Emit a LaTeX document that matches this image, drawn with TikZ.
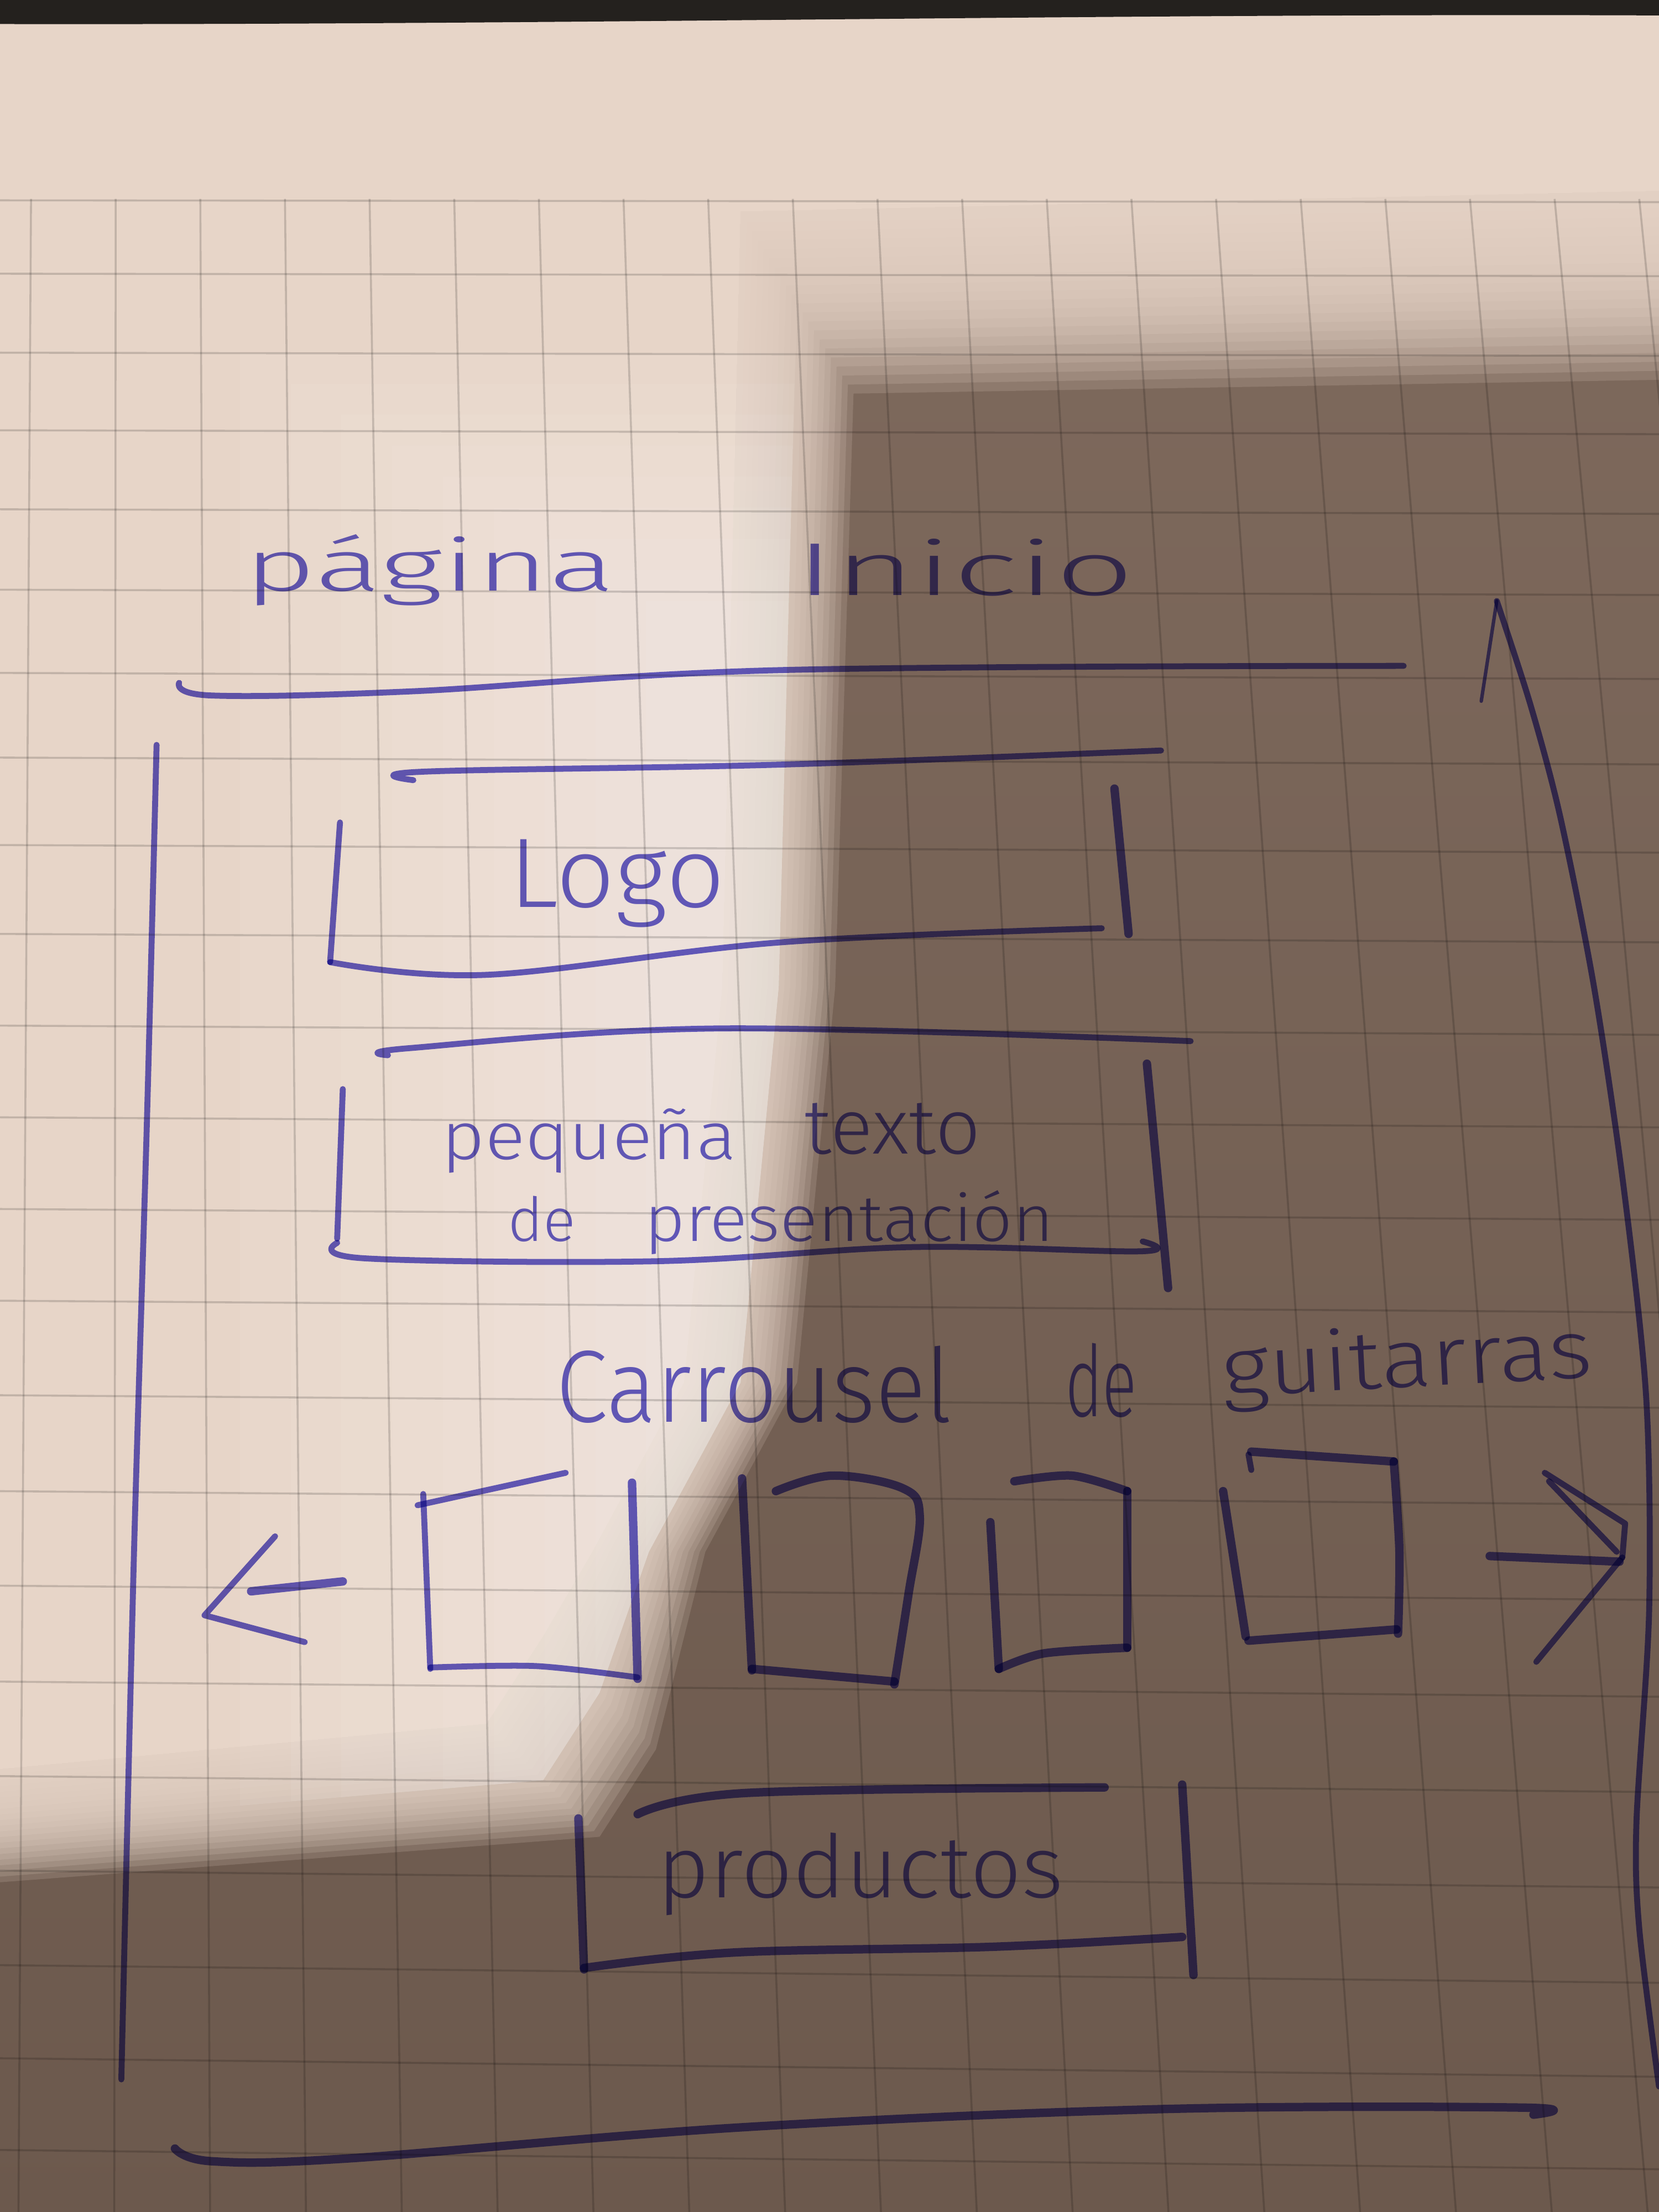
\documentclass[tikz,border=0pt]{standalone}
\usepackage{fontspec}
\usepackage{graphicx}
\newfontfamily\handfont{Fira Sans}[UprightFont={* Light}]

\definecolor{inkc}{RGB}{104,98,212}
\definecolor{paperlit}{RGB}{231,213,200}
\definecolor{papershade}{RGB}{128,107,94}
\definecolor{papershadelow}{RGB}{108,89,77}
\definecolor{photoedge}{RGB}{36,33,30}

\tikzset{
  pen/.style={draw=inkc, line width=1.2pt, line cap=round, line join=round},
  heavypen/.style={pen, line width=1.7pt},
  finepen/.style={pen, line width=0.7pt},
  gridline/.style={draw=black, opacity=0.16, line width=0.4pt},
  hand/.style={inner sep=0pt, outer sep=0pt, text=inkc, font=\handfont, anchor=base west},
}

\begin{document}
\begin{tikzpicture}[x=0.1mm, y=-0.1mm]
\useasboundingbox (0,0) rectangle (1176,1568);
\clip (0,0) rectangle (1176,1568);

% --- paper in shadow, darker towards the bottom
\shade[top color=papershade, bottom color=papershadelow] (-10,-10) rectangle (1190,1580);

% --- lit part of the sheet, soft edged (stacked translucent layers)
\fill[paperlit]
  (-10,-10) -- (1190,-10) -- (1190,135) -- (525,150)
  -- (512,700) -- (485,980) -- (420,1100)
  -- (385,1160) -- (345,1222) -- (-10,1255) -- cycle;
\foreach \d in {-36,-32,...,40} {
  \fill[paperlit, opacity=0.17]
    (-10,-10) -- (1190,-10) -- (1190,{205+1.6*\d}) -- ({565+\d},{215+1.6*\d})
    -- ({552+\d},700) -- ({525+\d},980) -- ({460+\d},1100)
    -- ({425+\d},{1200+\d}) -- ({385+\d},{1262+\d}) -- (-10,{1295+\d}) -- cycle;
}

% --- bright stripe of light in the middle of the lit part
\begin{scope}
  \clip (-10,-10) -- (1190,-10) -- (1190,185) -- (565,200) -- (552,700)
    -- (525,980) -- (460,1100) -- (425,1200) -- (385,1262) -- (-10,1295) -- cycle;
  \foreach \i in {0,...,8}
    \fill[white, opacity=0.055] ({170+36*\i},{250+22*\i}) rectangle (600,{1320-8*\i});
\end{scope}

% --- dark band of the desk behind the sheet
\fill[photoedge] (-10,-10) -- (1190,-10) -- (1190,11)
  .. controls (800,9) and (400,18) .. (-10,17) -- cycle;

% --- squared grid of the notebook page
\begin{scope}
  \clip (0,141) rectangle (1176,1568);
  \foreach \k in {0,...,19}
    \draw[gridline] ({22+60*\k},141) -- ({13+68*\k},1580);
  \foreach \yy in {142,194,250,305,361,418,477,537,599,662,727,792,857,922,989,1057,1124,1192,1259,1326,1393,1459,1524}
    \draw[gridline] (0,\yy) -- (1176,{\yy+\yy*0.009});
\end{scope}

% --- the pen drawing
\begin{scope}[blend mode=multiply]

  % page title
  \node[hand] (tpagina) at (173,419) {\resizebox{26.3mm}{4.0mm}{página}};
  \node[hand] (tinicio) at (564,422) {\resizebox{24mm}{4.0mm}{Inicio}};

  % header rule
  \draw[pen] plot[smooth, tension=0.6] coordinates {(127,484) (150,493) (293,490) (553,475) (995,472)};

  % page frame: left side, bottom, right side with scroll arrow
  \draw[pen] plot[smooth] coordinates {(111,528) (104,800) (95,1100) (86,1474)};
  \draw[heavypen] plot[smooth, tension=0.6] coordinates {(124,1523) (150,1532) (247,1530) (525,1508) (825,1495) (1080,1494) (1087,1499)};
  \draw[pen] plot[smooth, tension=0.5] coordinates {(1061,426) (1085,500) (1106,579) (1130,700) (1151,842) (1167,992) (1169,1142) (1160,1292) (1162,1367) (1176,1479)};
  \draw[finepen] (1061,426) -- (1050,497);

  % logo block
  \draw[pen] plot[smooth, tension=0.6] coordinates {(293,553) (300,547) (553,542) (823,532)};
  \draw[pen] (241,583) -- (234,682);
  \draw[pen] plot[smooth, tension=0.6] coordinates {(234,682) (345,691) (553,668) (781,658)};
  \draw[heavypen] (790,559) -- (800,662);
  \node[hand] (tlogo) at (361,643) {\resizebox{15.3mm}{4.8mm}{Logo}};

  % presentation text block
  \draw[pen] plot[smooth, tension=0.6] coordinates {(275,748) (290,743) (511,729) (844,738)};
  \draw[pen] (243,772) -- (239,878);
  \draw[pen] plot[smooth, tension=0.6] coordinates {(239,881) (259,892) (466,894) (646,884) (808,887) (810,880)};
  \draw[heavypen] (813,754) -- (828,913);
  \node[hand] (tpeq) at (313,822) {\resizebox{20.9mm}{3.6mm}{pequeña}};
  \node[hand] (ttexto) at (570,818) {\resizebox{12.5mm}{3.6mm}{texto}};
  \node[hand] (tde) at (360,880) {\resizebox{4.8mm}{3.2mm}{de}};
  \node[hand] (tpres) at (457,880) {\resizebox{29mm}{3.6mm}{presentación}};

  % carousel heading
  \node[hand] (tcarr) at (394,1008) {\resizebox{28.1mm}{5.4mm}{Carrousel}};
  \node[hand] (tdeg) at (755,1004) {\resizebox{5.1mm}{5.2mm}{de}};
  \node[hand, rotate=3] (tguit) at (867,990) {\resizebox{26.3mm}{4.4mm}{guitarras}};

  % carousel: previous arrow
  \draw[heavypen] (178,1128) -- (243,1121);
  \draw[pen] (195,1089) -- (145,1145) -- (216,1164);

  % carousel items
  \draw[pen] (296,1067) -- (401,1044);
  \draw[pen] (300,1059) -- (305,1183);
  \draw[pen] plot[smooth] coordinates {(305,1182) (380,1181) (452,1189)};
  \draw[heavypen] (448,1051) -- (452,1190);

  \draw[heavypen] (526,1048) -- (533,1184);
  \draw[heavypen] plot[smooth, tension=0.6] coordinates {(550,1057) (590,1046) (640,1055) (652,1075) (644,1130) (634,1194)};
  \draw[heavypen] (533,1183) -- (634,1192);

  \draw[heavypen] (702,1079) -- (708,1183);
  \draw[heavypen] plot[smooth] coordinates {(719,1050) (760,1046) (799,1057)};
  \draw[heavypen] (799,1057) -- (799,1168);
  \draw[heavypen] plot[smooth] coordinates {(708,1183) (740,1172) (799,1168)};

  \draw[heavypen] (887,1029) -- (988,1036);
  \draw[pen] (885,1031) -- (887,1042);
  \draw[heavypen] (867,1057) -- (883,1160);
  \draw[heavypen] plot[smooth] coordinates {(988,1036) (992,1100) (991,1158)};
  \draw[heavypen] (885,1163) -- (990,1155);

  % carousel: next arrow
  \draw[heavypen] (1056,1103) -- (1148,1107);
  \draw[pen] (1095,1044) -- (1152,1080) -- (1150,1104);
  \draw[pen] (1098,1050) -- (1146,1100);
  \draw[pen] (1150,1104) -- (1089,1178);

  % products block
  \draw[heavypen] plot[smooth, tension=0.6] coordinates {(452,1286) (528,1271) (783,1267)};
  \draw[heavypen] (410,1289) -- (414,1396);
  \draw[heavypen] plot[smooth, tension=0.6] coordinates {(414,1395) (521,1384) (703,1380) (838,1373)};
  \draw[heavypen] (838,1265) -- (846,1400);
  \node[hand] (tprod) at (466,1345) {\resizebox{28.8mm}{4.6mm}{productos}};
\end{scope}
\end{tikzpicture}
\end{document}
